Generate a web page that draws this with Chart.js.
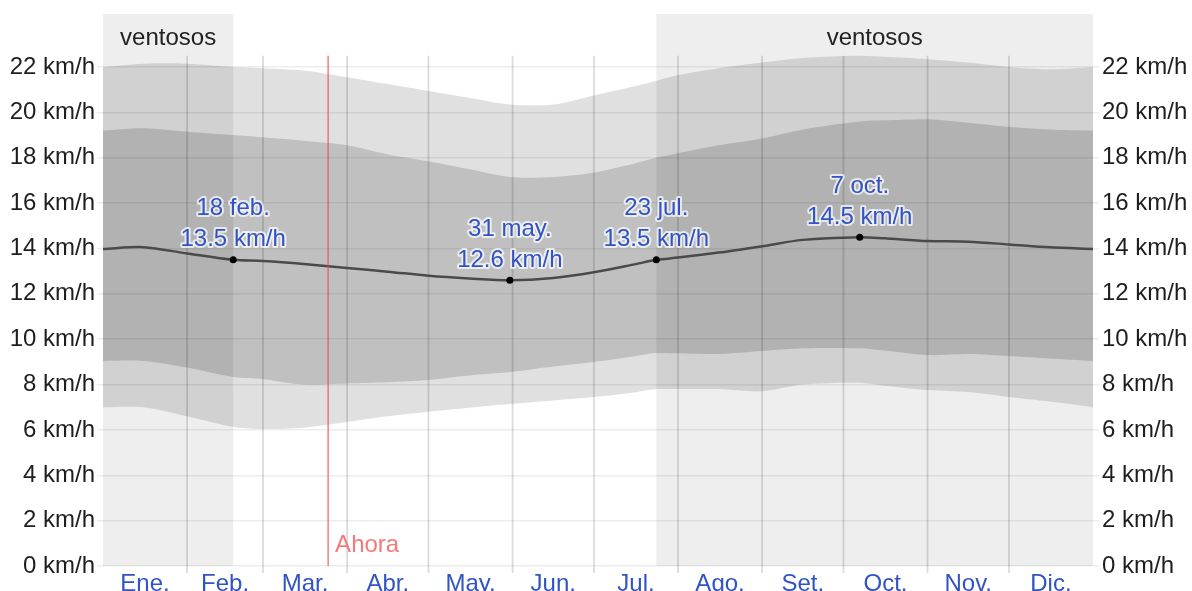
<!DOCTYPE html>
<html>
<head>
<meta charset="utf-8">
<script src="https://cdn.jsdelivr.net/npm/chart.js@4.4.1/dist/chart.umd.min.js"></script>
<style>
  html, body { margin: 0; padding: 0; background: #fff; overflow: hidden; }
  #wrap { width: 1192px; height: 600px; }
</style>
</head>
<body>
<div id="wrap"><canvas id="grafico" width="1192" height="600"></canvas></div>
<script>
// Velocidad promedio del viento (km/h) por dia del año
const dias     = [0, 15, 31, 48, 59, 74, 90, 105, 120, 135, 150, 166, 181, 196, 204, 212, 227, 243, 258, 279, 288, 304, 319, 334, 349, 365];
const promedio = [13.98, 14.06, 13.78, 13.5, 13.45, 13.32, 13.14, 12.98, 12.8, 12.68, 12.6, 12.7, 12.95, 13.3, 13.5, 13.6, 13.82, 14.1, 14.38, 14.5, 14.45, 14.33, 14.3, 14.18, 14.05, 13.98];
const p90      = [22.0, 22.15, 22.15, 22.0, 21.95, 21.85, 21.55, 21.25, 20.95, 20.65, 20.35, 20.35, 20.75, 21.15, 21.4, 21.65, 21.95, 22.2, 22.4, 22.5, 22.45, 22.35, 22.2, 22.0, 21.9, 22.0];
const p75      = [19.2, 19.3, 19.15, 19.0, 18.9, 18.75, 18.55, 18.15, 17.85, 17.5, 17.15, 17.15, 17.35, 17.75, 18.0, 18.2, 18.55, 18.85, 19.25, 19.6, 19.65, 19.7, 19.55, 19.37, 19.25, 19.2];
const p25      = [9.04, 9.04, 8.75, 8.33, 8.24, 8.0, 8.05, 8.1, 8.2, 8.4, 8.55, 8.8, 9.0, 9.25, 9.39, 9.38, 9.35, 9.48, 9.6, 9.6, 9.5, 9.3, 9.35, 9.26, 9.15, 9.04];
const p10      = [7.0, 7.0, 6.6, 6.13, 6.04, 6.1, 6.35, 6.6, 6.8, 6.98, 7.14, 7.3, 7.45, 7.65, 7.8, 7.8, 7.8, 7.7, 8.0, 8.08, 7.95, 7.76, 7.67, 7.45, 7.25, 7.0];

const meses = ['Ene.', 'Feb.', 'Mar.', 'Abr.', 'May.', 'Jun.', 'Jul.', 'Ago.', 'Set.', 'Oct.', 'Nov.', 'Dic.'];
const inicioMes = [0, 31, 59, 90, 120, 151, 181, 212, 243, 273, 304, 334, 365];

const marcasDia = [48, 150, 204, 279];
const marcasFecha = ['18 feb.', '31 may.', '23 jul.', '7 oct.'];
const marcasValor = [13.5, 12.6, 13.5, 14.5];

const ventososInicio = [0, 204];
const ventososFin = [48, 365];

const ticksY = [0, 2, 4, 6, 8, 10, 12, 14, 16, 18, 20, 22];
const hoy = 83;

const fuente = "'Liberation Sans', Arial, sans-serif";
const azul = '#3153c4';
const topeRejilla = 22.5;

Chart.defaults.font.family = fuente;
Chart.defaults.font.size = 24;

function puntos(valores) {
    return dias.map((d, i) => ({ x: d, y: valores[i] }));
}

// fondo de los periodos ventosos
const fondoVentosos = {
    id: 'fondoVentosos',
    beforeDraw(chart) {
        const { ctx, chartArea, scales: { x } } = chart;
        ctx.save();
        ventososInicio.forEach((ini, i) => {
            const x1 = x.getPixelForValue(ini);
            const x2 = x.getPixelForValue(ventososFin[i]);
            ctx.fillStyle = '#eeeeee';
            ctx.fillRect(x1, chartArea.top, x2 - x1, chartArea.bottom - chartArea.top);
            ctx.fillStyle = '#222';
            ctx.font = '24px ' + fuente;
            ctx.textAlign = 'center';
            ctx.textBaseline = 'middle';
            ctx.fillText('ventosos', (x1 + x2) / 2, chartArea.top + 24);
        });
        ctx.restore();
    }
};

// lineas de los meses
const lineasMes = {
    id: 'lineasMes',
    beforeDatasetsDraw(chart) {
        const { ctx, chartArea, scales: { x, y } } = chart;
        ctx.save();
        ctx.strokeStyle = 'rgba(0,0,0,0.14)';
        ctx.lineWidth = 1.8;
        inicioMes.slice(1, -1).forEach(d => {
            const px = x.getPixelForValue(d);
            ctx.beginPath();
            ctx.moveTo(px, y.getPixelForValue(topeRejilla));
            ctx.lineTo(px, chartArea.bottom + 7);
            ctx.stroke();
        });
        ctx.restore();
    }
};

// linea "Ahora" y etiquetas
const etiquetas = {
    id: 'etiquetas',
    afterDatasetsDraw(chart) {
        const { ctx, chartArea, scales: { x, y } } = chart;
        ctx.save();
        const hx = x.getPixelForValue(hoy);
        ctx.strokeStyle = 'rgba(235,70,70,0.8)';
        ctx.lineWidth = 1.3;
        ctx.beginPath();
        ctx.moveTo(hx, y.getPixelForValue(topeRejilla));
        ctx.lineTo(hx, chartArea.bottom);
        ctx.stroke();
        ctx.font = '24px ' + fuente;
        ctx.fillStyle = 'rgba(242,115,115,0.95)';
        ctx.textAlign = 'left';
        ctx.textBaseline = 'middle';
        ctx.fillText('Ahora', hx + 7, chartArea.bottom - 21);

        ctx.textAlign = 'center';
        ctx.lineJoin = 'round';
        marcasDia.forEach((d, i) => {
            const px = x.getPixelForValue(d);
            const py = y.getPixelForValue(marcasValor[i]);
            const lineas = [marcasFecha[i], marcasValor[i].toFixed(1) + ' km/h'];
            lineas.forEach((t, j) => {
                const ty = py - 20 - (1 - j) * 31;
                ctx.strokeStyle = 'rgba(255,255,255,0.7)';
                ctx.lineWidth = 4;
                ctx.strokeText(t, px, ty);
                ctx.fillStyle = azul;
                ctx.fillText(t, px, ty);
            });
        });
        ctx.restore();
    }
};

const ctx = document.getElementById('grafico');

new Chart(ctx, {
    type: 'line',
    data: {
        datasets: [
            {
                data: marcasDia.map((d, i) => ({ x: d, y: marcasValor[i] })),
                showLine: false,
                pointRadius: 3.5,
                pointBackgroundColor: '#000',
                pointBorderWidth: 0
            },
            {
                data: puntos(promedio),
                borderColor: '#4a4a4a',
                borderWidth: 2.5,
                pointRadius: 0,
                tension: 0.3,
                fill: false
            },
            {
                data: puntos(p75),
                borderWidth: 0,
                pointRadius: 0,
                tension: 0.3,
                backgroundColor: 'rgba(0,0,0,0.145)',
                fill: 3
            },
            {
                data: puntos(p25),
                borderWidth: 0,
                pointRadius: 0,
                tension: 0.3,
                fill: false
            },
            {
                data: puntos(p90),
                borderWidth: 0,
                pointRadius: 0,
                tension: 0.3,
                backgroundColor: 'rgba(0,0,0,0.12)',
                fill: 5
            },
            {
                data: puntos(p10),
                borderWidth: 0,
                pointRadius: 0,
                tension: 0.3,
                fill: false
            }
        ]
    },
    options: {
        responsive: false,
        animation: false,
        layout: { padding: { top: 14, left: 0, right: 0, bottom: 0 } },
        plugins: {
            legend: { display: false },
            tooltip: { enabled: false }
        },
        scales: {
            x: {
                type: 'linear',
                min: 0,
                max: 365,
                afterBuildTicks(s) {
                    s.ticks = meses.map((m, i) => ({ value: (inicioMes[i] + inicioMes[i + 1]) / 2 }));
                },
                afterFit(s) {
                    s.height = 34;
                    s.paddingLeft = 0;
                    s.paddingRight = 0;
                },
                grid: { display: false },
                border: { display: false },
                ticks: {
                    padding: -4,
                    color: azul,
                    maxRotation: 0,
                    autoSkip: false,
                    callback: (v, i) => meses[i]
                }
            },
            y: {
                position: 'left',
                min: 0,
                max: 24.34,
                afterBuildTicks(s) {
                    s.ticks = ticksY.map(v => ({ value: v }));
                },
                afterFit(s) {
                    s.width = 103;
                    s.paddingTop = 0;
                    s.paddingBottom = 0;
                },
                grid: { color: 'rgba(0,0,0,0.07)', lineWidth: 1.5, tickLength: 6 },
                border: { display: false },
                ticks: { padding: 2, color: '#1e1e1e', callback: v => v + ' km/h' }
            },
            y2: {
                position: 'right',
                min: 0,
                max: 24.34,
                afterBuildTicks(s) {
                    s.ticks = ticksY.map(v => ({ value: v }));
                },
                afterFit(s) {
                    s.width = 99;
                    s.paddingTop = 0;
                    s.paddingBottom = 0;
                },
                grid: { drawOnChartArea: false, color: 'rgba(0,0,0,0.07)', lineWidth: 1.5, tickLength: 6 },
                border: { display: false },
                ticks: { padding: 3, color: '#1e1e1e', callback: v => v + ' km/h' }
            }
        }
    },
    plugins: [fondoVentosos, lineasMes, etiquetas]
});
</script>
</body>
</html>
